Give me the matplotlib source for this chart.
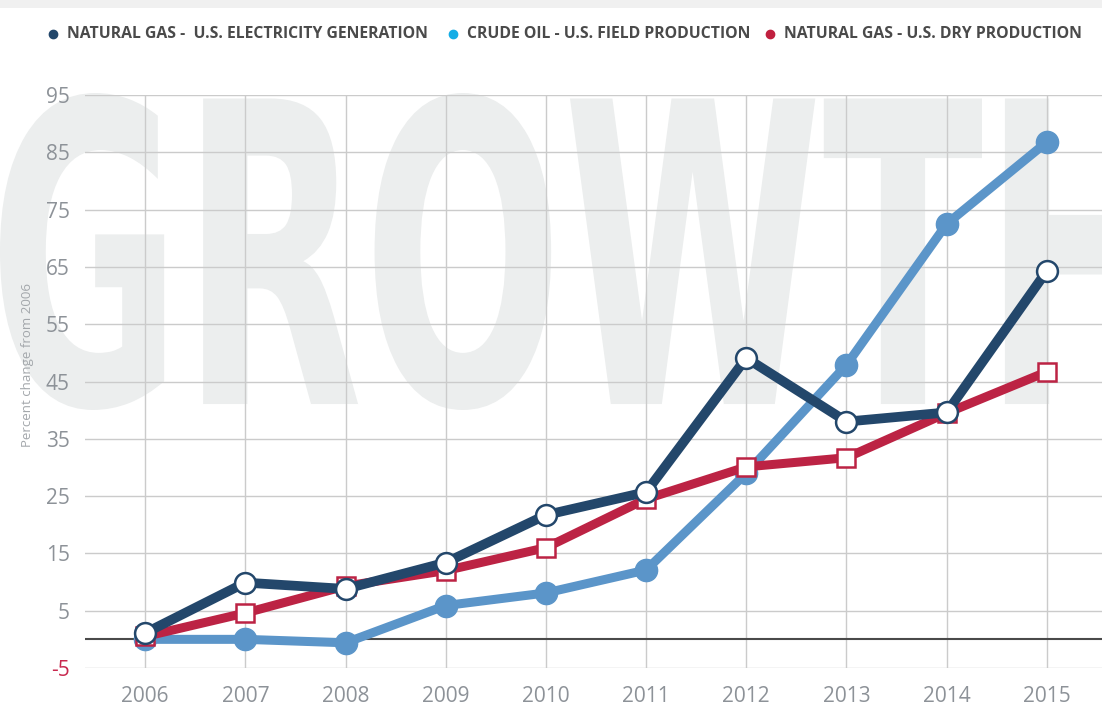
import numpy as np
import matplotlib
matplotlib.use('Agg')
import matplotlib.pyplot as plt
from matplotlib.textpath import TextPath
from matplotlib.font_manager import FontProperties
from matplotlib.patches import PathPatch, Rectangle
from matplotlib.path import Path
from matplotlib.lines import Line2D

years = [2006, 2007, 2008, 2009, 2010, 2011, 2012, 2013, 2014, 2015]
gas_electricity = [1.1, 9.9, 8.8, 13.4, 21.7, 25.7, 49.1, 38.0, 39.6, 64.3]
crude_oil = [0.0, 0.0, -0.6, 5.9, 8.1, 12.1, 29.0, 47.9, 72.5, 86.8]
gas_dry = [0.5, 4.6, 9.3, 12.0, 16.0, 24.5, 30.1, 31.7, 39.5, 46.7]
yticks = [-5, 5, 15, 25, 35, 45, 55, 65, 75, 85, 95]
legend_labels = ['NATURAL GAS -  U.S. ELECTRICITY GENERATION',
                 'CRUDE OIL - U.S. FIELD PRODUCTION',
                 'NATURAL GAS - U.S. DRY PRODUCTION']

NAVY = '#23476b'
BLUE = '#5b95c9'
RED = '#bc2344'
W, H = 1102, 712

plt.rcParams['font.family'] = ['Open Sans', 'DejaVu Sans']
plt.rcParams['axes.unicode_minus'] = False

fig = plt.figure(figsize=(W / 100, H / 100), dpi=100)
fig.patch.set_facecolor('white')

# faint strip at top
fig.patches.append(Rectangle((0, 1 - 8 / H), 1, 8 / H, transform=fig.transFigure,
                             facecolor='#f0f0f0', edgecolor='none', zorder=-20))

# big "GROWTH" watermark, squeezed to fit the picture
fp = FontProperties(family='DejaVu Sans', weight='bold')
tp_all = TextPath((0, 0), 'GROWTH', prop=fp, size=100)
tp_part = TextPath((0, 0), 'GROWT', prop=fp, size=100)
ext_part = tp_part.get_extents()
ext_all = tp_all.get_extents()
x0, x1 = 0.0, 982.0
y_top, y_bot = 712 - 93, 712 - 410
sx = (x1 - x0) / (ext_part.x1 - ext_part.x0)
sy = (y_top - y_bot) / (ext_all.y1 - ext_all.y0)
v = tp_all.vertices.copy()
v[:, 0] = (v[:, 0] - ext_part.x0) * sx + x0
v[:, 1] = (v[:, 1] - ext_all.y0) * sy + y_bot
v[:, 0] /= W
v[:, 1] /= H
wm = PathPatch(Path(v, tp_all.codes), transform=fig.transFigure,
               facecolor='#eceeee', edgecolor='none', zorder=-10)
fig.patches.append(wm)

ax = fig.add_axes([85 / W, (712 - 668) / H, 1 - 85 / W, (668 - 95) / H])
ax.set_zorder(1)
ax.patch.set_alpha(0)
ax.set_xlim(2005.4, 2015.55)
ax.set_ylim(-5, 95)
for s in ax.spines.values():
    s.set_visible(False)

ax.set_yticks(yticks)
ax.set_xticks(years)
ax.tick_params(length=0, labelsize=15, labelcolor='#8d9298')
ax.tick_params(axis='y', pad=11)
ax.tick_params(axis='x', pad=13)
ax.get_yticklabels()[0].set_color('#c8294f')
ax.grid(True, color='#cbcbcb', lw=1)
ax.set_axisbelow(True)
ax.axhline(0, color='#4a4a4a', lw=1.5, zorder=1)

ax.plot(years, crude_oil, color=BLUE, lw=6.5, marker='o', ms=16,
        mfc=BLUE, mec=BLUE, zorder=3, solid_capstyle='round')
ax.plot(years, gas_dry, color=RED, lw=6.5, marker='s', ms=13,
        mfc='white', mec=RED, mew=1.8, zorder=4)
ax.plot(years, gas_electricity, color=NAVY, lw=7, marker='o', ms=15,
        mfc='white', mec=NAVY, mew=1.8, zorder=5)

fig.text(28 / W, 1 - 365 / H, 'Percent change from 2006', rotation=90,
         ha='center', va='center', fontsize=9.5, color='#a3a7ab')

# legend row
leg_x = [53, 453, 770]
leg_c = [NAVY, '#14ade6', '#c0203f']
for lx, lc, lab in zip(leg_x, leg_c, legend_labels):
    fig.add_artist(Line2D([lx / W], [1 - 34 / H], marker='o', ms=6, color=lc,
                          lw=0, transform=fig.transFigure))
    fig.text((lx + 14) / W, 1 - 34 / H, lab, ha='left', va='center',
             fontsize=11.3, fontweight='bold', color='#4a4a4a')

fig.savefig('out.png', dpi=100)
